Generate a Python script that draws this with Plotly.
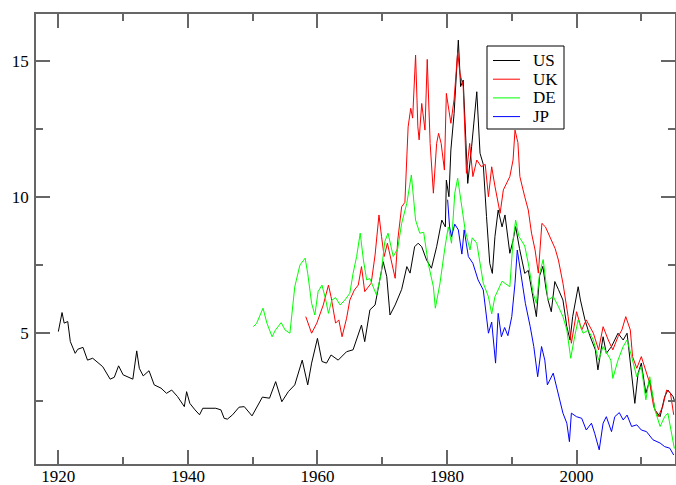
import plotly.graph_objects as go

us_year = [1920.0, 1920.57, 1920.9, 1921.45, 1921.85, 1922.6, 1923.0, 1923.8, 1924.5, 1925.3,
           1926.85, 1928.0, 1928.64, 1929.3, 1930.0, 1931.5, 1932.1, 1932.5, 1933.1, 1934.0,
           1934.8, 1935.85, 1936.7, 1937.5, 1938.4, 1939.45, 1939.8, 1940.3, 1941.1, 1941.8,
           1942.3, 1944.3, 1945.1, 1945.6, 1946.1, 1946.9, 1947.9, 1948.7, 1949.9, 1950.8,
           1951.5, 1952.6, 1953.55, 1954.5, 1955.5, 1956.5, 1957.65, 1958.5, 1959.1, 1960.0,
           1960.7, 1961.4, 1962.1, 1963.2, 1964.5, 1965.5, 1966.3, 1966.8, 1967.3, 1968.1,
           1968.9, 1970.15, 1970.7, 1971.2, 1972.0, 1973.0, 1973.8, 1974.3, 1975.0, 1975.55,
           1976.1, 1976.85, 1977.6, 1978.4, 1979.2, 1979.75, 1979.9, 1980.3, 1980.6, 1981.1,
           1981.75, 1982.1, 1982.5, 1982.9, 1983.2, 1983.8, 1984.6, 1985.1, 1985.6, 1986.1,
           1986.6, 1987.0, 1987.4, 1987.9, 1988.5, 1988.95, 1989.7, 1990.2, 1990.6, 1991.2,
           1992.0, 1992.55, 1993.3, 1993.8, 1994.3, 1994.8, 1995.3, 1995.6, 1996.1, 1996.65,
           1997.2, 1997.9, 1998.5, 1999.0, 1999.4, 2000.25, 2000.6, 2001.3, 2002.05, 2002.9,
           2003.3, 2004.1, 2004.6, 2005.4, 2006.4, 2007.2, 2007.8, 2008.5, 2009.0, 2009.5,
           2010.0, 2010.7, 2011.3, 2012.1, 2012.9, 2013.6, 2014.1, 2014.9, 2015.2]
us_rate = [5.05, 5.75, 5.36, 5.42, 4.68, 4.25, 4.40, 4.47, 4.00, 4.07,
           3.76, 3.30, 3.37, 3.79, 3.46, 3.30, 4.34, 3.70, 3.42, 3.61,
           3.09, 2.97, 2.78, 2.90, 2.66, 2.29, 2.84, 2.41, 2.17, 1.99,
           2.23, 2.23, 2.17, 1.86, 1.83, 1.99, 2.27, 2.29, 1.95, 2.35,
           2.64, 2.60, 3.21, 2.47, 2.84, 3.09, 4.00, 3.09, 3.89, 4.80,
           3.95, 3.89, 4.19, 4.00, 4.31, 4.38, 4.99, 5.29, 4.68, 5.85,
           6.03, 7.62, 7.07, 5.66, 6.03, 6.60, 7.44, 7.20, 8.17, 8.30,
           8.17, 7.68, 7.38, 8.17, 9.15, 8.90, 10.62, 10.01, 11.73, 13.08,
           15.77, 14.06, 14.30, 12.10, 10.50, 11.85, 13.87, 11.61, 11.20, 9.28,
           7.56, 7.19, 8.54, 9.52, 8.90, 9.34, 7.93, 8.40, 8.91, 8.10,
           7.19, 7.30, 6.21, 5.60, 7.10, 7.45, 6.60, 6.21, 5.78, 6.89,
           6.60, 6.21, 5.23, 4.74, 5.60, 6.70, 6.21, 5.48, 4.90, 4.38,
           3.64, 4.86, 4.25, 4.50, 4.99, 4.74, 4.99, 3.52, 2.41, 3.52,
           3.89, 2.78, 3.27, 2.17, 1.92, 2.65, 2.90, 2.66, 2.45]

uk_year = [1958.2, 1959.1, 1959.9, 1960.9, 1961.7, 1962.1, 1962.8, 1963.3, 1963.8, 1964.5,
           1965.0, 1965.7, 1966.3, 1966.8, 1967.3, 1968.3, 1968.9, 1969.5, 1969.9, 1970.3,
           1970.8, 1971.3, 1972.0, 1972.4, 1973.0, 1973.5, 1974.0, 1974.4, 1974.7, 1975.15,
           1975.5, 1975.7, 1976.1, 1976.6, 1976.95, 1977.4, 1977.9, 1978.4, 1978.7, 1979.1,
           1979.6, 1979.9, 1980.6, 1981.1, 1981.65, 1982.0, 1982.5, 1983.0, 1983.5, 1984.0,
           1984.6, 1985.3, 1985.9, 1986.4, 1986.9, 1987.4, 1988.2, 1988.7, 1989.7, 1990.2,
           1990.5, 1990.95, 1991.25, 1992.0, 1992.55, 1993.05, 1993.6, 1994.1, 1994.65, 1995.2,
           1995.9, 1996.7, 1997.2, 1997.9, 1998.7, 1999.2, 2000.0, 2000.8, 2001.5, 2002.6,
           2003.4, 2004.1, 2004.9, 2005.6, 2006.4, 2007.0, 2007.6, 2008.3, 2008.65, 2009.3,
           2010.0, 2010.6, 2011.3, 2011.9, 2012.6, 2013.3, 2013.9, 2014.5, 2015.0]
uk_rate = [5.60, 4.99, 5.36, 6.03, 6.76, 6.33, 5.36, 5.48, 4.86, 5.54,
           6.21, 6.58, 6.76, 7.44, 6.52, 6.83, 7.87, 9.34, 8.54, 7.81,
           8.30, 7.80, 7.01, 8.42, 9.64, 9.80, 12.58, 13.26, 12.90, 15.22,
           12.58, 12.10, 13.44, 12.46, 15.06, 11.97, 10.14, 11.97, 12.34, 11.97,
           10.99, 13.81, 12.71, 13.60, 15.34, 14.55, 14.06, 10.87, 11.97, 10.75,
           11.36, 11.11, 11.20, 10.01, 11.11, 10.40, 9.40, 10.26, 10.75, 11.36,
           12.46, 12.00, 10.75, 10.01, 9.52, 8.67, 8.05, 7.20, 9.03, 8.90,
           8.54, 8.10, 7.68, 6.83, 5.60, 4.62, 5.78, 5.11, 5.48, 4.99,
           4.38, 5.23, 4.74, 4.38, 4.86, 5.11, 5.60, 5.11, 4.13, 3.70,
           4.13, 3.64, 3.15, 2.29, 1.92, 2.29, 2.90, 2.78, 1.99]

de_year = [1950.1, 1950.6, 1951.6, 1952.2, 1953.0, 1953.5, 1954.4, 1955.0, 1955.75, 1956.1,
           1956.5, 1957.3, 1958.1, 1958.5, 1959.1, 1959.6, 1960.1, 1960.7, 1961.2, 1961.7,
           1962.2, 1962.8, 1963.5, 1964.2, 1965.0, 1965.5, 1966.05, 1966.6, 1967.1, 1967.6,
           1968.1, 1969.1, 1969.8, 1970.4, 1970.9, 1971.7, 1972.4, 1973.0, 1973.8, 1974.5,
           1975.15, 1975.8, 1976.4, 1977.1, 1977.9, 1978.2, 1978.9, 1979.7, 1980.2, 1980.7,
           1981.2, 1981.65, 1982.2, 1982.8, 1983.55, 1983.9, 1984.6, 1985.1, 1985.6, 1986.4,
           1986.9, 1987.4, 1988.5, 1989.7, 1990.2, 1990.6, 1991.1, 1992.0, 1992.6, 1993.3,
           1993.8, 1994.3, 1994.85, 1995.6, 1996.4, 1997.2, 1997.9, 1998.5, 1999.1, 1999.7,
           2000.25, 2001.0, 2001.8, 2002.6, 2003.4, 2004.1, 2005.3, 2005.6, 2006.4, 2007.2,
           2007.8, 2008.5, 2009.3, 2010.0, 2010.7, 2011.3, 2012.1, 2012.9, 2013.6, 2014.1,
           2014.6, 2015.1]
de_rate = [5.23, 5.35, 5.91, 5.36, 4.86, 5.10, 5.38, 5.11, 4.99, 5.85,
           6.70, 7.50, 7.75, 7.19, 6.09, 5.66, 6.52, 6.76, 6.30, 5.72,
           6.20, 6.30, 6.03, 6.20, 6.46, 7.19, 7.81, 8.67, 7.68, 6.95,
           7.00, 6.40, 7.13, 8.36, 8.67, 7.81, 8.11, 9.03, 9.77, 10.81,
           9.15, 8.67, 8.70, 7.56, 6.70, 5.91, 6.80, 8.17, 8.90, 8.30,
           10.14, 10.69, 9.77, 8.79, 8.05, 8.50, 8.30, 7.56, 6.83, 6.33,
           5.70, 6.33, 6.90, 6.70, 8.42, 9.15, 8.55, 8.20, 7.50, 6.46,
           6.09, 7.19, 7.70, 6.21, 6.34, 5.97, 5.60, 5.11, 4.07, 4.86,
           5.48, 4.99, 5.10, 4.74, 4.00, 4.50, 4.00, 3.33, 4.00, 4.50,
           4.74, 4.13, 3.39, 3.76, 2.54, 3.39, 2.17, 1.56, 1.92, 2.05,
           1.43, 0.75]

jp_year = [1980.1, 1980.4, 1980.7, 1981.2, 1981.75, 1982.3, 1982.65, 1983.3, 1984.0, 1984.8,
           1985.6, 1986.0, 1986.4, 1986.9, 1987.5, 1987.9, 1988.4, 1988.9, 1989.4, 1990.0,
           1990.5, 1990.85, 1991.4, 1992.1, 1992.85, 1993.4, 1994.0, 1994.6, 1995.1, 1995.5,
           1996.4, 1997.2, 1997.9, 1998.5, 1998.9, 1999.2, 2000.0, 2000.8, 2001.5, 2002.3,
           2002.8, 2003.5, 2004.1, 2004.6, 2005.4, 2005.9, 2006.6, 2007.2, 2007.8, 2008.5,
           2009.3, 2010.0, 2010.8, 2011.8, 2012.9, 2013.6, 2014.4, 2015.0]
jp_rate = [9.90, 8.90, 8.54, 9.00, 8.79, 7.90, 8.79, 7.81, 7.56, 6.95,
           6.58, 5.85, 4.99, 5.40, 3.89, 5.72, 4.86, 5.20, 4.90, 5.60,
           6.83, 8.05, 7.10, 6.09, 5.23, 4.50, 3.39, 4.50, 4.00, 3.09,
           3.52, 2.78, 2.05, 1.68, 1.00, 2.05, 1.92, 1.86, 1.43, 1.68,
           1.31, 0.70, 1.68, 1.92, 1.37, 1.92, 2.07, 1.80, 1.98, 1.56,
           1.62, 1.43, 1.37, 1.07, 0.95, 0.82, 0.76, 0.51]

series = [("US", us_year, us_rate, "#000000"),
          ("UK", uk_year, uk_rate, "#ff0000"),
          ("DE", de_year, de_rate, "#00ff00"),
          ("JP", jp_year, jp_rate, "#0000ff")]

x_ticks = [1920, 1940, 1960, 1980, 2000]
y_ticks = [5, 10, 15]

# plot-area geometry in pixels (used only to place the legend box)
W, H = 676, 485
ML, MR, MT, MB = 36, 1, 14, 21
PW, PH = W - ML - MR, H - MT - MB

def px(x):
    return (x - ML) / PW

def py(y):
    return (H - MB - y) / PH

fig = go.Figure()
for name, xs, ys, col in series:
    fig.add_trace(go.Scatter(x=xs, y=ys, mode="lines", name=name,
                             line=dict(color=col, width=1), showlegend=False))

serif = "Liberation Serif, Times New Roman, serif"
font = dict(family=serif, size=17, color="#000000")
axis_common = dict(showgrid=False, zeroline=False, showline=True, linecolor="#666666",
                   linewidth=1.5, mirror="ticks", ticks="inside", ticklen=14,
                   tickcolor="#666666", tickwidth=1.5, tickfont=font, automargin=False)

fig.update_xaxes(range=[1916.55, 2015.2], tickvals=x_ticks, ticklabelstandoff=-4,
                 minor=dict(ticks="inside", ticklen=7, dtick=10, tick0=1910,
                            tickcolor="#666666", tickwidth=1.5),
                 **axis_common)
fig.update_yaxes(range=[0.18, 16.73], tickvals=y_ticks, ticklabelstandoff=2,
                 minor=dict(ticks="inside", ticklen=7, dtick=2.5, tick0=0,
                            tickcolor="#666666", tickwidth=1.5),
                 **axis_common)

# legend drawn as a boxed key (Grace style)
shapes = [dict(type="rect", xref="paper", yref="paper",
               x0=px(487), x1=px(564), y0=py(129), y1=py(46),
               line=dict(color="#000000", width=1), fillcolor="white", layer="above")]
annotations = []
row_y = [60.5, 79.2, 97.9, 116.6]
for (name, xs, ys, col), ry in zip(series, row_y):
    shapes.append(dict(type="line", xref="paper", yref="paper",
                       x0=px(493), x1=px(520), y0=py(ry), y1=py(ry),
                       line=dict(color=col, width=1), layer="above"))
    annotations.append(dict(text=name, xref="paper", yref="paper", x=px(531), y=py(ry),
                            xanchor="left", yanchor="middle", showarrow=False,
                            font=font))

fig.update_layout(
    width=W, height=H,
    margin=dict(l=ML, r=MR, t=MT, b=MB),
    paper_bgcolor="white", plot_bgcolor="white",
    font=font,
    showlegend=False,
    shapes=shapes,
    annotations=annotations,
)

fig.write_html("out.html",
               config={"displayModeBar": False},
               post_script="document.body.style.margin='0px';"
                           "document.body.style.overflow='hidden';")
